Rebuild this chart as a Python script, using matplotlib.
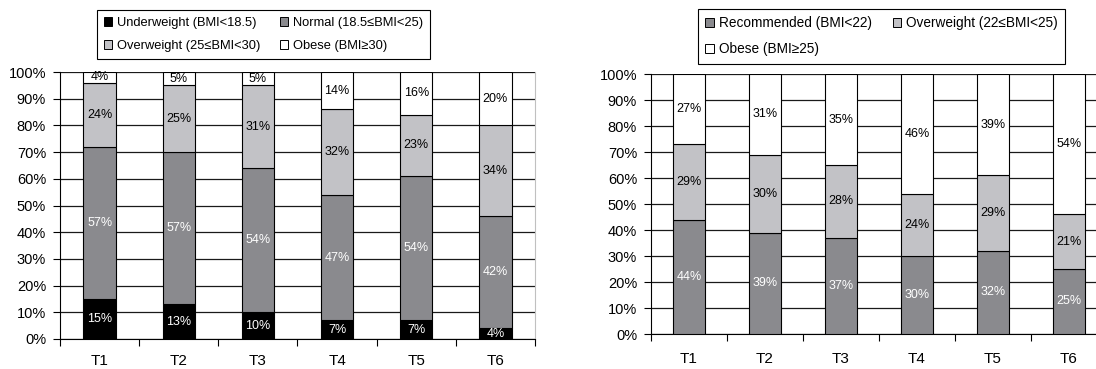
import numpy as np
import matplotlib
matplotlib.use('Agg')
import matplotlib.pyplot as plt
from matplotlib.patches import Patch
from matplotlib.ticker import FuncFormatter

plt.rcParams['font.family'] = ['Liberation Sans', 'DejaVu Sans']

periods = ['T1', 'T2', 'T3', 'T4', 'T5', 'T6']

# WHO cut-offs (left)
underweight = [15, 13, 10, 7, 7, 4]
normal = [57, 57, 54, 47, 54, 42]
overweight = [24, 25, 31, 32, 23, 34]
obese = [4, 5, 5, 14, 16, 20]
who_labels = ['Underweight (BMI<18.5)', 'Normal (18.5\u2264BMI<25)',
              'Overweight (25\u2264BMI<30)', 'Obese (BMI\u226530)']

# Asian cut-offs (right)
recommended = [44, 39, 37, 30, 32, 25]
overweight_a = [29, 30, 28, 24, 29, 21]
obese_a = [27, 31, 35, 46, 39, 54]
asian_labels = ['Recommended (BMI<22)', 'Overweight (22\u2264BMI<25)', 'Obese (BMI\u226525)']

BLACK = '#000000'
DARK = '#8a8a8e'
LIGHT = '#c2c2c6'
WHITE = '#ffffff'


def stacked(ax, series, colors, txtcolors, xpad):
    x = np.arange(len(periods))
    bottom = np.zeros(len(periods))
    for vals, c, tc in zip(series, colors, txtcolors):
        vals = np.array(vals, dtype=float)
        ax.bar(x, vals, 0.41, bottom=bottom, color=c, edgecolor='black',
               linewidth=0.8, zorder=3)
        for xi, b, v in zip(x, bottom, vals):
            ax.text(xi, b + v / 2, '%d%%' % v, ha='center', va='center',
                    color=tc, fontsize=9, zorder=4)
        bottom += vals

    ax.set_xlim(-0.5, len(periods) - 0.5)
    ax.set_ylim(0, 100)
    ax.set_yticks(range(0, 101, 10))
    ax.yaxis.set_major_formatter(FuncFormatter(lambda v, p: '%d%%' % v))
    ax.yaxis.grid(True, color='#1a1a1a', linewidth=0.9)
    ax.set_axisbelow(True)
    ax.set_xticks(x)
    ax.set_xticklabels(periods)
    ax.set_xticks(np.arange(-0.5, len(periods), 1), minor=True)
    ax.tick_params(axis='x', which='major', length=0, pad=xpad, labelsize=11)
    ax.tick_params(axis='x', which='minor', length=5, width=0.8, direction='out')
    ax.tick_params(axis='y', length=5, width=0.8, labelsize=10.5, pad=5)
    ax.spines['top'].set_visible(False)
    ax.spines['left'].set_linewidth(0.8)
    ax.spines['bottom'].set_linewidth(0.8)


fig = plt.figure(figsize=(10.96, 3.69), dpi=100)
W, H = 1096.0, 369.0

ax1 = fig.add_axes([60 / W, 1 - 339 / H, 475 / W, 267 / H])
stacked(ax1, [underweight, normal, overweight, obese],
        [BLACK, DARK, LIGHT, WHITE], ['white', 'white', 'black', 'black'], 11)
ax1.spines['right'].set_color('#c0c0c0')

ax2 = fig.add_axes([651 / W, 1 - 334 / H, 456 / W, 260 / H])
stacked(ax2, [recommended, overweight_a, obese_a],
        [DARK, LIGHT, WHITE], ['white', 'black', 'black'], 13)
ax2.spines['right'].set_visible(False)

h1 = [Patch(facecolor=c, edgecolor='black', linewidth=0.7, label=l)
      for c, l in zip([BLACK, DARK, LIGHT, WHITE], who_labels)]
h2 = [Patch(facecolor=c, edgecolor='black', linewidth=0.7, label=l)
      for c, l in zip([DARK, LIGHT, WHITE], asian_labels)]

legkw = dict(ncol=2, loc='upper left', frameon=True, fancybox=False,
             handlelength=0.6, handleheight=0.6, handletextpad=0.4,
             columnspacing=1.5, labelspacing=0.85, borderpad=0.55,
             borderaxespad=0, edgecolor='black', framealpha=1)
# legend fills column by column, so reorder to read row by row
leg1 = fig.legend([h1[0], h1[2], h1[1], h1[3]], [who_labels[0], who_labels[2], who_labels[1], who_labels[3]],
                  bbox_to_anchor=(97 / W, 1 - 10 / H), fontsize=9.3, **legkw)
leg1.get_frame().set_linewidth(0.8)
leg2 = fig.legend([h2[0], h2[2], h2[1]], [asian_labels[0], asian_labels[2], asian_labels[1]],
                  bbox_to_anchor=(698 / W, 1 - 9 / H), fontsize=9.8, **legkw)
leg2.get_frame().set_linewidth(0.8)

fig.savefig('out.png', dpi=100)
